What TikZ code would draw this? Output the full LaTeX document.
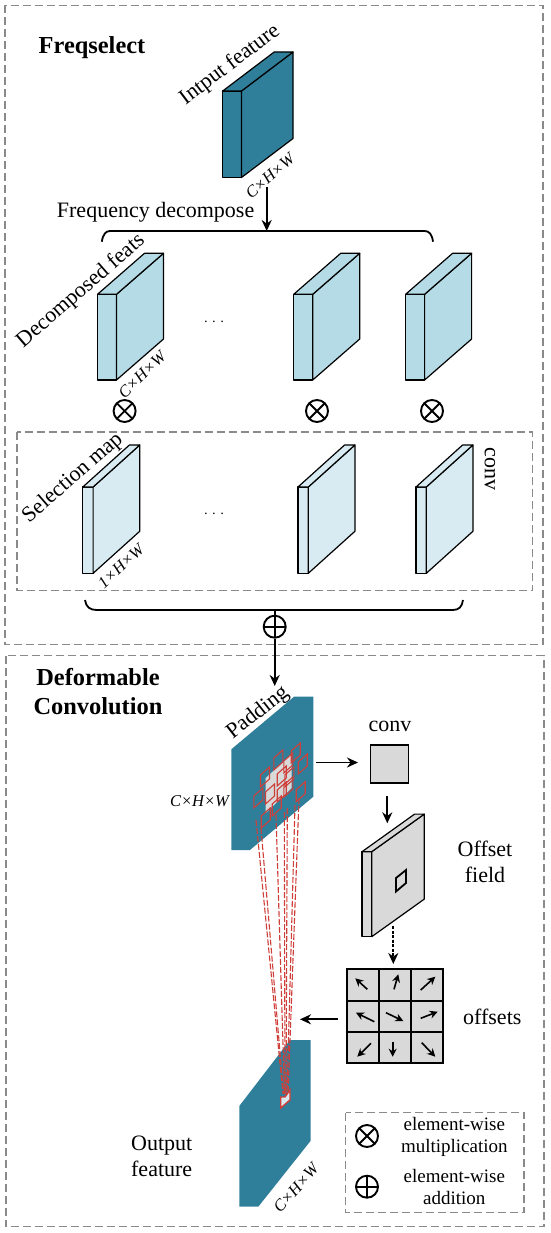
\documentclass[tikz,border=0pt]{standalone}
\usepackage{fontspec}
\setmainfont{Liberation Serif}
\usetikzlibrary{arrows.meta}
\definecolor{tealmap}{HTML}{2F7F9B}
\definecolor{bluefeat}{HTML}{B5DBE6}
\definecolor{bluesel}{HTML}{D8EBF2}
\definecolor{greyfeat}{HTML}{D9D9D9}
\definecolor{redcell}{HTML}{CF3F3A}
\definecolor{dashgrey}{HTML}{8A8A8A}
\tikzset{
    x=1pt, y=-1pt,
    >={Stealth[length=11pt,width=10pt]},
    arr/.style={->, line width=1.9pt},
    boxline/.style={dashgrey, line width=1.2pt, dash pattern=on 8pt off 4pt},
    bracket/.style={line width=1.8pt},
    slabline/.style={draw=black, line width=1.2pt, line join=round},
    txt/.style={font=\fontsize{22}{26}\selectfont, inner sep=0pt, align=center},
    dimtxt/.style={font=\fontsize{16.5}{20}\selectfont\itshape, inner sep=0pt},
    titletxt/.style={font=\fontsize{24.4}{29}\selectfont\bfseries, inner sep=0pt, align=center},
    legendtxt/.style={font=\fontsize{19}{22.5}\selectfont, inner sep=0pt, align=center},
    dotstxt/.style={font=\fontsize{14}{20}\selectfont, inner sep=0pt},
    mulop/.style={circle, draw, line width=1.9pt, minimum size=22pt, inner sep=0pt,
        path picture={\draw[line width=1.9pt] (path picture bounding box.north west) -- (path picture bounding box.south east)
            (path picture bounding box.north east) -- (path picture bounding box.south west);}},
    addop/.style={circle, draw, line width=1.9pt, minimum size=22pt, inner sep=0pt,
        path picture={\draw[line width=1.9pt] (path picture bounding box.north) -- (path picture bounding box.south)
            (path picture bounding box.east) -- (path picture bounding box.west);}},
    redgrid/.style={draw=redcell, line width=1.1pt},
    redline/.style={redcell, line width=1.1pt, dash pattern=on 6pt off 2pt},
    offsetarr/.style={-{Stealth[length=8pt,width=8pt]}, line width=1.6pt}
}
% x, y of the front top left corner, front width, height, depth x, depth y, colour
\newcommand{\featbox}[7]{
    \draw[slabline, fill=#7] (#1,#2) rectangle ({#1+#3},{#2+#4});
    \draw[slabline, fill=#7] ({#1+#3},#2) -- ({#1+#3+#5},{#2-#6}) -- ({#1+#3+#5},{#2+#4-#6}) -- ({#1+#3},{#2+#4}) -- cycle;
    \draw[slabline, fill=#7] (#1,#2) -- ({#1+#5},{#2-#6}) -- ({#1+#3+#5},{#2-#6}) -- ({#1+#3},#2) -- cycle;
}
\begin{document}
\begin{tikzpicture}
    \useasboundingbox (0,0) rectangle (550,1233);
    % The dashed frames.
    \draw[boxline] (5,5.5) rectangle (543,644.5);
    \draw[boxline] (6,655.5) rectangle (544,1226.5);
    \draw[boxline] (17,432) rectangle (532.5,590.5);
    \draw[boxline] (345.5,1112.5) rectangle (524,1212.5);

    % Below are the feature blocks of the upper part.
    \featbox{222.7}{91}{18.8}{86.5}{51.5}{39}{tealmap}
    \foreach \xa in {97.5, 293.7, 405.6} {
        \featbox{\xa}{294.3}{19}{85.7}{47}{41}{bluefeat}
    }
    \foreach \xa in {82.8, 298, 416} {
        \featbox{\xa}{487}{10.3}{86.3}{46.6}{42}{bluesel}
    }

    % The two brackets.
    \draw[bracket] (101.8,241.7) .. controls (103,234) and (106,231) .. (110,231) -- (424.6,231) .. controls (429,231) and (432,234) .. (433,241.7);
    \draw[bracket] (85,600) .. controls (86,607) and (90,610) .. (96.5,610) -- (452.6,610) .. controls (459,610) and (462,607) .. (463,600);

    % The operators.
    \node[mulop] (mula) at (124.6,411) {};
    \node[mulop] (mulb) at (317,411) {};
    \node[mulop] (mulc) at (432,411) {};
    \node[addop] (addmain) at (274.7,626.7) {};
    \node[mulop] (mulkey) at (367,1136) {};
    \node[addop] (addkey) at (367,1186.7) {};

    % Arrows of the upper part.
    \coordinate (inputout) at (266.7,187);
    \coordinate (bracktop) at (266.7,231);
    \coordinate (brackbot) at (274.7,610);
    \coordinate (paddingin) at (274.7,686);
    \draw[arr] (inputout) -- (bracktop);
    \draw[bracket] (brackbot) -- (addmain);
    \draw[arr] (addmain) -- (paddingin);

    % Input and output maps of the lower part.
    \fill[tealmap] (231.3,749.3) -- (294,696.7) -- (313.3,696.7) -- (313.3,796.7) -- (250,850) -- (231.3,850) -- cycle;
    \fill[tealmap] (239.3,1106) -- (290,1040) -- (310.7,1040) -- (310.7,1140.7) -- (258.3,1206.7) -- (239.3,1206.7) -- cycle;

    % This draws the sampled cells.
    \fill[greyfeat] (265.7,778) -- (291.7,754) -- (291.7,788) -- (265.7,813) -- cycle;
    \foreach \cx/\cy in {295.7/753, 302.7/764, 300.7/791.7, 278.3/760, 288.3/763, 265/777, 281.7/776, 289.3/777,
        258.3/798, 270/794, 281.7/792, 288.3/787, 265.7/818, 276.7/806} {
        \draw[redgrid] ({\cx-4.5},{\cy-2}) -- ({\cx+4.5},{\cy-10}) -- ({\cx+4.5},{\cy+2}) -- ({\cx-4.5},{\cy+10}) -- cycle;
    }
    \foreach \xa/\ya/\xb in {256/820/283, 261/828/283.5, 276/815/284.5, 284.3/812/285, 287.3/808/286, 295/805/287, 299/798/288} {
        \draw[redline] (\xa,\ya) -- (\xb,1094);
    }
    \draw[redcell, line width=1.4pt, fill=bluesel] (280.7,1097) -- (285,1097) -- (290,1090) -- (290,1100) -- (280.7,1108) -- cycle;

    % Conv, offset field and offsets.
    \node[draw, line width=1.8pt, fill=greyfeat, minimum size=38pt, inner sep=0pt] (convbox) at (389.5,763.8) {};
    \featbox{362}{851.7}{9.7}{85}{52.6}{37.6}{greyfeat}
    \draw[black, line width=1.8pt] (396,878) -- (406,870) -- (406,883) -- (396,891.5) -- cycle;
    \fill[greyfeat] (347.3,968.7) rectangle (443.3,1062.7);
    \draw[line width=2.2pt] (347.3,968.7) rectangle (443.3,1062.7);
    \foreach \xa in {379, 411} {
        \draw[line width=2.2pt] (\xa,968.7) -- (\xa,1062.7);
    }
    \foreach \ya in {1000.7, 1031.7} {
        \draw[line width=2.2pt] (347.3,\ya) -- (443.3,\ya);
    }
    \foreach \xa/\ya/\xb/\yb in {367.3/989.3/355.3/978.3, 394/989.3/398.3/974.3, 420.7/990/435.3/976.7,
        374.3/1021.7/356/1012.7, 386/1012.7/403.3/1021, 420.7/1018.3/437.7/1011.7,
        371/1043.3/357.3/1056.7, 392.7/1041.7/392.7/1056.7, 421.7/1042.7/435.3/1056.7} {
        \draw[offsetarr] (\xa,\ya) -- (\xb,\yb);
    }

    % Arrows of the lower part.
    \coordinate (mapout) at (316,762.5);
    \coordinate (convin) at (358,762.5);
    \coordinate (convout) at (387.3,796);
    \coordinate (fieldin) at (387.3,823.3);
    \coordinate (fieldout) at (393.3,926);
    \coordinate (gridin) at (393.3,964);
    \coordinate (gridout) at (338,1019.3);
    \coordinate (fanin) at (300,1019.3);
    \draw[arr] (mapout) -- (convin);
    \draw[arr] (convout) -- (fieldin);
    \draw[arr, dash pattern=on 3pt off 1.5pt] (fieldout) -- (gridin);
    \draw[arr] (gridout) -- (fanin);

    % Below nodes are the labels.
    \node[titletxt] (freqtitle) at (92,48) {Freqselect};
    \node[titletxt] (deftitle) at (98,692) {Deformable\\Convolution};
    \node[txt, rotate=37] (inputlabel) at (230,65) {Intput feature};
    \node[dimtxt, rotate=41] (inputdim) at (270,176) {C×H×W};
    \node[txt] (decomplabel) at (155.6,212) {Frequency decompose};
    \node[txt, rotate=41] (feats) at (81,291) {Decomposed feats};
    \node[dimtxt, rotate=44] (featsdim) at (142,375) {C×H×W};
    \node[dotstxt] (dotsa) at (214,324) {· · ·};
    \node[txt, rotate=41] (selection) at (73,478) {Selection map};
    \node[dimtxt, rotate=43] (seldim) at (121,566) {1×H×W};
    \node[txt, rotate=-90] (convside) at (490,469) {conv};
    \node[dotstxt] (dotsb) at (214,516) {· · ·};
    \node[txt, rotate=38] (padding) at (258,713) {Padding};
    \node[dimtxt] (mapdim) at (199.5,801) {C×H×W};
    \node[txt] (convlabel) at (390,726) {conv};
    \node[txt] (fieldlabel) at (485,862) {Offset\\field};
    \node[txt] (offsetlabel) at (492.3,1016.7) {offsets};
    \node[txt] (outlabel) at (161.7,1156.5) {Output\\feature};
    \node[dimtxt, rotate=48] (outdim) at (296,1188) {C×H×W};
    \node[legendtxt] (mullabel) at (454.3,1137) {element-wise\\multiplication};
    \node[legendtxt] (addlabel) at (454.3,1187) {element-wise\\addition};
\end{tikzpicture}
\end{document}
